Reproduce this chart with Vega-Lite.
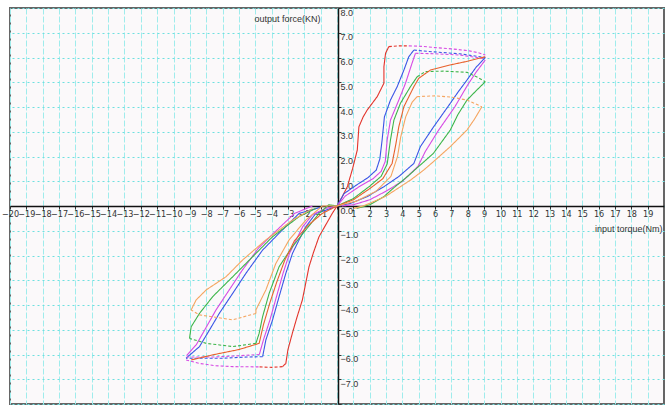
{
  "$schema": "https://vega.github.io/schema/vega-lite/v6.json",
  "width": 654,
  "height": 396,
  "autosize": {"type": "none"},
  "padding": {"left": 10, "top": 8, "right": 5, "bottom": 3},
  "background": "#ffffff",
  "config": {
    "view": {"fill": "#fbf9fa", "stroke": "#666666", "strokeWidth": 2},
    "font": "Liberation Sans"
  },
  "data": {"values": [
    {"path":"urRedA","loop":"red","part":"branch","i":0,"x":0,"y":0},
    {"path":"urRedA","loop":"red","part":"branch","i":1,"x":0.3,"y":0.35},
    {"path":"urRedA","loop":"red","part":"branch","i":2,"x":0.63,"y":0.78},
    {"path":"urRedA","loop":"red","part":"branch","i":3,"x":0.95,"y":1.5},
    {"path":"urRedA","loop":"red","part":"branch","i":4,"x":1.24,"y":2.26},
    {"path":"urRedA","loop":"red","part":"branch","i":5,"x":1.34,"y":3.2},
    {"path":"urRedA","loop":"red","part":"branch","i":6,"x":1.6,"y":3.6},
    {"path":"urRedA","loop":"red","part":"branch","i":7,"x":1.85,"y":3.88},
    {"path":"urRedA","loop":"red","part":"branch","i":8,"x":2.46,"y":4.42},
    {"path":"urRedA","loop":"red","part":"branch","i":9,"x":2.87,"y":4.96},
    {"path":"urRedA","loop":"red","part":"branch","i":10,"x":2.87,"y":5.63},
    {"path":"urRedA","loop":"red","part":"branch","i":11,"x":2.97,"y":6.17},
    {"path":"urRedA","loop":"red","part":"branch","i":12,"x":3.17,"y":6.44},
    {"path":"urRedT","loop":"red","part":"top","i":0,"x":3.17,"y":6.44},
    {"path":"urRedT","loop":"red","part":"top","i":1,"x":3.8,"y":6.47},
    {"path":"urRedT","loop":"red","part":"top","i":2,"x":4.4,"y":6.47},
    {"path":"urMagT","loop":"magenta","part":"top","i":0,"x":4.4,"y":6.47},
    {"path":"urMagT","loop":"magenta","part":"top","i":1,"x":5.2,"y":6.45},
    {"path":"urMagT","loop":"magenta","part":"top","i":2,"x":6.0,"y":6.4},
    {"path":"urMagT","loop":"magenta","part":"top","i":3,"x":7.0,"y":6.35},
    {"path":"urMagT","loop":"magenta","part":"top","i":4,"x":8.0,"y":6.28},
    {"path":"urMagT","loop":"magenta","part":"top","i":5,"x":8.6,"y":6.2},
    {"path":"urMagT","loop":"magenta","part":"top","i":6,"x":9.07,"y":6.1},
    {"path":"urBlueA","loop":"blue","part":"branch","i":0,"x":0,"y":0},
    {"path":"urBlueA","loop":"blue","part":"branch","i":1,"x":0.43,"y":0.5},
    {"path":"urBlueA","loop":"blue","part":"branch","i":2,"x":1.2,"y":0.85},
    {"path":"urBlueA","loop":"blue","part":"branch","i":3,"x":1.9,"y":1.15},
    {"path":"urBlueA","loop":"blue","part":"branch","i":4,"x":2.4,"y":1.45},
    {"path":"urBlueA","loop":"blue","part":"branch","i":5,"x":2.62,"y":1.9},
    {"path":"urBlueA","loop":"blue","part":"branch","i":6,"x":2.76,"y":2.67},
    {"path":"urBlueA","loop":"blue","part":"branch","i":7,"x":2.9,"y":3.6},
    {"path":"urBlueA","loop":"blue","part":"branch","i":8,"x":3.27,"y":4.28},
    {"path":"urBlueA","loop":"blue","part":"branch","i":9,"x":3.68,"y":4.82},
    {"path":"urBlueA","loop":"blue","part":"branch","i":10,"x":4.09,"y":5.49},
    {"path":"urBlueA","loop":"blue","part":"branch","i":11,"x":4.39,"y":6.03},
    {"path":"urBlueA","loop":"blue","part":"branch","i":12,"x":4.7,"y":6.3},
    {"path":"urBlueT","loop":"blue","part":"top","i":0,"x":4.7,"y":6.3},
    {"path":"urBlueT","loop":"blue","part":"top","i":1,"x":5.5,"y":6.25},
    {"path":"urBlueT","loop":"blue","part":"top","i":2,"x":6.5,"y":6.2},
    {"path":"urBlueT","loop":"blue","part":"top","i":3,"x":7.5,"y":6.15},
    {"path":"urBlueT","loop":"blue","part":"top","i":4,"x":9.07,"y":6.0},
    {"path":"urBlueB","loop":"blue","part":"branch","i":0,"x":9.07,"y":6.0},
    {"path":"urBlueB","loop":"blue","part":"branch","i":1,"x":8.5,"y":5.6},
    {"path":"urBlueB","loop":"blue","part":"branch","i":2,"x":7.95,"y":5.09},
    {"path":"urBlueB","loop":"blue","part":"branch","i":3,"x":7.4,"y":4.6},
    {"path":"urBlueB","loop":"blue","part":"branch","i":4,"x":6.93,"y":4.15},
    {"path":"urBlueB","loop":"blue","part":"branch","i":5,"x":5.91,"y":3.2},
    {"path":"urBlueB","loop":"blue","part":"branch","i":6,"x":5.1,"y":2.4},
    {"path":"urBlueB","loop":"blue","part":"branch","i":7,"x":4.7,"y":1.72},
    {"path":"urBlueB","loop":"blue","part":"branch","i":8,"x":3.8,"y":1.2},
    {"path":"urBlueB","loop":"blue","part":"branch","i":9,"x":2.87,"y":0.78},
    {"path":"urBlueB","loop":"blue","part":"branch","i":10,"x":1.85,"y":0.38},
    {"path":"urBlueB","loop":"blue","part":"branch","i":11,"x":0.8,"y":0.1},
    {"path":"urBlueB","loop":"blue","part":"branch","i":12,"x":0,"y":0},
    {"path":"urMagA","loop":"magenta","part":"branch","i":0,"x":0,"y":0},
    {"path":"urMagA","loop":"magenta","part":"branch","i":1,"x":0.5,"y":0.4},
    {"path":"urMagA","loop":"magenta","part":"branch","i":2,"x":1.4,"y":0.8},
    {"path":"urMagA","loop":"magenta","part":"branch","i":3,"x":2.2,"y":1.1},
    {"path":"urMagA","loop":"magenta","part":"branch","i":4,"x":2.7,"y":1.4},
    {"path":"urMagA","loop":"magenta","part":"branch","i":5,"x":2.95,"y":1.8},
    {"path":"urMagA","loop":"magenta","part":"branch","i":6,"x":3.07,"y":2.67},
    {"path":"urMagA","loop":"magenta","part":"branch","i":7,"x":3.27,"y":3.47},
    {"path":"urMagA","loop":"magenta","part":"branch","i":8,"x":3.78,"y":4.28},
    {"path":"urMagA","loop":"magenta","part":"branch","i":9,"x":4.19,"y":4.96},
    {"path":"urMagA","loop":"magenta","part":"branch","i":10,"x":4.59,"y":5.77},
    {"path":"urMagA","loop":"magenta","part":"branch","i":11,"x":4.8,"y":6.17},
    {"path":"urMagT2","loop":"magenta","part":"top","i":0,"x":4.8,"y":6.17},
    {"path":"urMagT2","loop":"magenta","part":"top","i":1,"x":6.0,"y":6.15},
    {"path":"urMagT2","loop":"magenta","part":"top","i":2,"x":7.5,"y":6.1},
    {"path":"urMagT2","loop":"magenta","part":"top","i":3,"x":9.07,"y":5.95},
    {"path":"urMagB","loop":"magenta","part":"branch","i":0,"x":9.07,"y":5.9},
    {"path":"urMagB","loop":"magenta","part":"branch","i":1,"x":8.5,"y":5.4},
    {"path":"urMagB","loop":"magenta","part":"branch","i":2,"x":8.0,"y":4.9},
    {"path":"urMagB","loop":"magenta","part":"branch","i":3,"x":7.2,"y":4.0},
    {"path":"urMagB","loop":"magenta","part":"branch","i":4,"x":6.2,"y":3.05},
    {"path":"urMagB","loop":"magenta","part":"branch","i":5,"x":5.4,"y":2.2},
    {"path":"urMagB","loop":"magenta","part":"branch","i":6,"x":4.95,"y":1.6},
    {"path":"urMagB","loop":"magenta","part":"branch","i":7,"x":4.0,"y":1.0},
    {"path":"urMagB","loop":"magenta","part":"branch","i":8,"x":3.0,"y":0.6},
    {"path":"urMagB","loop":"magenta","part":"branch","i":9,"x":2.0,"y":0.25},
    {"path":"urMagB","loop":"magenta","part":"branch","i":10,"x":1.0,"y":0.05},
    {"path":"urMagB","loop":"magenta","part":"branch","i":11,"x":0.3,"y":0},
    {"path":"urGreenA","loop":"green","part":"branch","i":0,"x":0,"y":0},
    {"path":"urGreenA","loop":"green","part":"branch","i":1,"x":1.0,"y":0.3},
    {"path":"urGreenA","loop":"green","part":"branch","i":2,"x":2.0,"y":0.8},
    {"path":"urGreenA","loop":"green","part":"branch","i":3,"x":2.7,"y":1.2},
    {"path":"urGreenA","loop":"green","part":"branch","i":4,"x":3.07,"y":1.7},
    {"path":"urGreenA","loop":"green","part":"branch","i":5,"x":3.27,"y":2.67},
    {"path":"urGreenA","loop":"green","part":"branch","i":6,"x":3.48,"y":3.47},
    {"path":"urGreenA","loop":"green","part":"branch","i":7,"x":3.88,"y":4.15},
    {"path":"urGreenA","loop":"green","part":"branch","i":8,"x":4.49,"y":4.82},
    {"path":"urGreenA","loop":"green","part":"branch","i":9,"x":4.9,"y":5.22},
    {"path":"urGreenT","loop":"green","part":"top","i":0,"x":4.9,"y":5.22},
    {"path":"urGreenT","loop":"green","part":"top","i":1,"x":5.4,"y":5.43},
    {"path":"urGreenT","loop":"green","part":"top","i":2,"x":6.5,"y":5.45},
    {"path":"urGreenT","loop":"green","part":"top","i":3,"x":7.95,"y":5.4},
    {"path":"urGreenT","loop":"green","part":"top","i":4,"x":8.6,"y":5.2},
    {"path":"urGreenT","loop":"green","part":"top","i":5,"x":9.07,"y":5.02},
    {"path":"urGreenB","loop":"green","part":"branch","i":0,"x":9.07,"y":5.02},
    {"path":"urGreenB","loop":"green","part":"branch","i":1,"x":8.5,"y":4.65},
    {"path":"urGreenB","loop":"green","part":"branch","i":2,"x":7.95,"y":4.28},
    {"path":"urGreenB","loop":"green","part":"branch","i":3,"x":7.4,"y":3.7},
    {"path":"urGreenB","loop":"green","part":"branch","i":4,"x":6.93,"y":3.07},
    {"path":"urGreenB","loop":"green","part":"branch","i":5,"x":5.9,"y":2.13},
    {"path":"urGreenB","loop":"green","part":"branch","i":6,"x":5.0,"y":1.6},
    {"path":"urGreenB","loop":"green","part":"branch","i":7,"x":4.29,"y":1.18},
    {"path":"urGreenB","loop":"green","part":"branch","i":8,"x":3.5,"y":0.75},
    {"path":"urGreenB","loop":"green","part":"branch","i":9,"x":2.87,"y":0.38},
    {"path":"urGreenB","loop":"green","part":"branch","i":10,"x":2.0,"y":0.05},
    {"path":"urGreenB","loop":"green","part":"branch","i":11,"x":1.2,"y":-0.1},
    {"path":"urRed2A","loop":"red2","part":"branch","i":0,"x":0,"y":0},
    {"path":"urRed2A","loop":"red2","part":"branch","i":1,"x":1.0,"y":0.25},
    {"path":"urRed2A","loop":"red2","part":"branch","i":2,"x":2.0,"y":0.7},
    {"path":"urRed2A","loop":"red2","part":"branch","i":3,"x":2.8,"y":1.1},
    {"path":"urRed2A","loop":"red2","part":"branch","i":4,"x":3.37,"y":1.72},
    {"path":"urRed2A","loop":"red2","part":"branch","i":5,"x":3.6,"y":2.5},
    {"path":"urRed2A","loop":"red2","part":"branch","i":6,"x":3.78,"y":3.2},
    {"path":"urRed2A","loop":"red2","part":"branch","i":7,"x":4.09,"y":4.01},
    {"path":"urRed2A","loop":"red2","part":"branch","i":8,"x":4.7,"y":4.82},
    {"path":"urRed2A","loop":"red2","part":"branch","i":9,"x":5.0,"y":5.16},
    {"path":"urRed2A","loop":"red2","part":"branch","i":10,"x":5.71,"y":5.49},
    {"path":"urRed2A","loop":"red2","part":"branch","i":11,"x":6.93,"y":5.7},
    {"path":"urRed2A","loop":"red2","part":"branch","i":12,"x":8.0,"y":5.85},
    {"path":"urRed2A","loop":"red2","part":"branch","i":13,"x":9.07,"y":6.03},
    {"path":"urOrA","loop":"orange","part":"branch","i":0,"x":0,"y":0},
    {"path":"urOrA","loop":"orange","part":"branch","i":1,"x":1.2,"y":0.2},
    {"path":"urOrA","loop":"orange","part":"branch","i":2,"x":2.4,"y":0.6},
    {"path":"urOrA","loop":"orange","part":"branch","i":3,"x":3.3,"y":1.2},
    {"path":"urOrA","loop":"orange","part":"branch","i":4,"x":3.7,"y":2.0},
    {"path":"urOrA","loop":"orange","part":"branch","i":5,"x":3.9,"y":2.8},
    {"path":"urOrA","loop":"orange","part":"branch","i":6,"x":4.2,"y":3.6},
    {"path":"urOrA","loop":"orange","part":"branch","i":7,"x":4.6,"y":4.2},
    {"path":"urOrA","loop":"orange","part":"branch","i":8,"x":4.9,"y":4.42},
    {"path":"urOrT","loop":"orange","part":"top","i":0,"x":4.9,"y":4.42},
    {"path":"urOrT","loop":"orange","part":"top","i":1,"x":6.0,"y":4.45},
    {"path":"urOrT","loop":"orange","part":"top","i":2,"x":7.0,"y":4.4},
    {"path":"urOrT","loop":"orange","part":"top","i":3,"x":7.95,"y":4.28},
    {"path":"urOrT","loop":"orange","part":"top","i":4,"x":8.86,"y":4.01},
    {"path":"urOrB","loop":"orange","part":"branch","i":0,"x":8.86,"y":4.01},
    {"path":"urOrB","loop":"orange","part":"branch","i":1,"x":8.4,"y":3.5},
    {"path":"urOrB","loop":"orange","part":"branch","i":2,"x":7.95,"y":3.07},
    {"path":"urOrB","loop":"orange","part":"branch","i":3,"x":6.93,"y":2.4},
    {"path":"urOrB","loop":"orange","part":"branch","i":4,"x":6.0,"y":1.85},
    {"path":"urOrB","loop":"orange","part":"branch","i":5,"x":5.3,"y":1.45},
    {"path":"urOrB","loop":"orange","part":"branch","i":6,"x":4.5,"y":1.05},
    {"path":"urOrB","loop":"orange","part":"branch","i":7,"x":3.88,"y":0.78},
    {"path":"urOrB","loop":"orange","part":"branch","i":8,"x":3.0,"y":0.4},
    {"path":"urOrB","loop":"orange","part":"branch","i":9,"x":2.46,"y":0.24},
    {"path":"urOrB","loop":"orange","part":"branch","i":10,"x":1.6,"y":0.0},
    {"path":"urOrB","loop":"orange","part":"branch","i":11,"x":1.0,"y":-0.1},

    {"path":"llRedA","loop":"red","part":"branch","i":0,"x":0,"y":0},
    {"path":"llRedA","loop":"red","part":"branch","i":1,"x":-0.29,"y":-0.3},
    {"path":"llRedA","loop":"red","part":"branch","i":2,"x":-1.1,"y":-1.24},
    {"path":"llRedA","loop":"red","part":"branch","i":3,"x":-1.45,"y":-1.9},
    {"path":"llRedA","loop":"red","part":"branch","i":4,"x":-1.71,"y":-2.45},
    {"path":"llRedA","loop":"red","part":"branch","i":5,"x":-2.12,"y":-3.8},
    {"path":"llRedA","loop":"red","part":"branch","i":6,"x":-2.45,"y":-4.5},
    {"path":"llRedA","loop":"red","part":"branch","i":7,"x":-2.73,"y":-5.14},
    {"path":"llRedA","loop":"red","part":"branch","i":8,"x":-3.0,"y":-5.8},
    {"path":"llRedA","loop":"red","part":"branch","i":9,"x":-3.13,"y":-6.36},
    {"path":"llRedA","loop":"red","part":"branch","i":10,"x":-3.33,"y":-6.49},
    {"path":"llRedT","loop":"red","part":"top","i":0,"x":-3.33,"y":-6.49},
    {"path":"llRedT","loop":"red","part":"top","i":1,"x":-4.0,"y":-6.52},
    {"path":"llRedT","loop":"red","part":"top","i":2,"x":-4.8,"y":-6.5},
    {"path":"llMagT","loop":"magenta","part":"top","i":0,"x":-4.8,"y":-6.5},
    {"path":"llMagT","loop":"magenta","part":"top","i":1,"x":-6.38,"y":-6.49},
    {"path":"llMagT","loop":"magenta","part":"top","i":2,"x":-7.5,"y":-6.45},
    {"path":"llMagT","loop":"magenta","part":"top","i":3,"x":-8.41,"y":-6.36},
    {"path":"llMagT","loop":"magenta","part":"top","i":4,"x":-9.23,"y":-6.22},
    {"path":"llBlueA","loop":"blue","part":"branch","i":0,"x":0,"y":0},
    {"path":"llBlueA","loop":"blue","part":"branch","i":1,"x":-0.6,"y":-0.15},
    {"path":"llBlueA","loop":"blue","part":"branch","i":2,"x":-1.3,"y":-0.3},
    {"path":"llBlueA","loop":"blue","part":"branch","i":3,"x":-1.91,"y":-0.84},
    {"path":"llBlueA","loop":"blue","part":"branch","i":4,"x":-2.32,"y":-1.37},
    {"path":"llBlueA","loop":"blue","part":"branch","i":5,"x":-2.72,"y":-1.91},
    {"path":"llBlueA","loop":"blue","part":"branch","i":6,"x":-3.13,"y":-2.72},
    {"path":"llBlueA","loop":"blue","part":"branch","i":7,"x":-3.54,"y":-3.66},
    {"path":"llBlueA","loop":"blue","part":"branch","i":8,"x":-3.94,"y":-4.6},
    {"path":"llBlueA","loop":"blue","part":"branch","i":9,"x":-4.35,"y":-5.41},
    {"path":"llBlueA","loop":"blue","part":"branch","i":10,"x":-4.55,"y":-6.09},
    {"path":"llBlueT","loop":"blue","part":"top","i":0,"x":-4.55,"y":-6.09},
    {"path":"llBlueT","loop":"blue","part":"top","i":1,"x":-5.5,"y":-6.1},
    {"path":"llBlueT","loop":"blue","part":"top","i":2,"x":-7.0,"y":-6.15},
    {"path":"llBlueT","loop":"blue","part":"top","i":3,"x":-8.5,"y":-6.15},
    {"path":"llBlueT","loop":"blue","part":"top","i":4,"x":-9.23,"y":-6.15},
    {"path":"llBlueB","loop":"blue","part":"branch","i":0,"x":-9.23,"y":-6.15},
    {"path":"llBlueB","loop":"blue","part":"branch","i":1,"x":-8.41,"y":-5.68},
    {"path":"llBlueB","loop":"blue","part":"branch","i":2,"x":-7.8,"y":-5.01},
    {"path":"llBlueB","loop":"blue","part":"branch","i":3,"x":-7.2,"y":-4.34},
    {"path":"llBlueB","loop":"blue","part":"branch","i":4,"x":-6.38,"y":-3.53},
    {"path":"llBlueB","loop":"blue","part":"branch","i":5,"x":-5.57,"y":-2.72},
    {"path":"llBlueB","loop":"blue","part":"branch","i":6,"x":-4.55,"y":-1.78},
    {"path":"llBlueB","loop":"blue","part":"branch","i":7,"x":-3.54,"y":-1.1},
    {"path":"llBlueB","loop":"blue","part":"branch","i":8,"x":-2.32,"y":-0.3},
    {"path":"llBlueB","loop":"blue","part":"branch","i":9,"x":-1.0,"y":-0.05},
    {"path":"llMagA","loop":"magenta","part":"branch","i":0,"x":0,"y":0},
    {"path":"llMagA","loop":"magenta","part":"branch","i":1,"x":-0.7,"y":-0.1},
    {"path":"llMagA","loop":"magenta","part":"branch","i":2,"x":-1.5,"y":-0.35},
    {"path":"llMagA","loop":"magenta","part":"branch","i":3,"x":-2.1,"y":-0.84},
    {"path":"llMagA","loop":"magenta","part":"branch","i":4,"x":-2.5,"y":-1.37},
    {"path":"llMagA","loop":"magenta","part":"branch","i":5,"x":-2.9,"y":-1.91},
    {"path":"llMagA","loop":"magenta","part":"branch","i":6,"x":-3.3,"y":-2.72},
    {"path":"llMagA","loop":"magenta","part":"branch","i":7,"x":-3.7,"y":-3.66},
    {"path":"llMagA","loop":"magenta","part":"branch","i":8,"x":-4.1,"y":-4.6},
    {"path":"llMagA","loop":"magenta","part":"branch","i":9,"x":-4.5,"y":-5.41},
    {"path":"llMagA","loop":"magenta","part":"branch","i":10,"x":-4.75,"y":-6.0},
    {"path":"llMagT2","loop":"magenta","part":"top","i":0,"x":-4.75,"y":-6.0},
    {"path":"llMagT2","loop":"magenta","part":"top","i":1,"x":-6.0,"y":-6.05},
    {"path":"llMagT2","loop":"magenta","part":"top","i":2,"x":-7.5,"y":-6.1},
    {"path":"llMagT2","loop":"magenta","part":"top","i":3,"x":-9.2,"y":-6.1},
    {"path":"llMagB","loop":"magenta","part":"branch","i":0,"x":-9.2,"y":-6.05},
    {"path":"llMagB","loop":"magenta","part":"branch","i":1,"x":-8.6,"y":-5.6},
    {"path":"llMagB","loop":"magenta","part":"branch","i":2,"x":-8.0,"y":-4.9},
    {"path":"llMagB","loop":"magenta","part":"branch","i":3,"x":-7.4,"y":-4.2},
    {"path":"llMagB","loop":"magenta","part":"branch","i":4,"x":-6.6,"y":-3.4},
    {"path":"llMagB","loop":"magenta","part":"branch","i":5,"x":-5.8,"y":-2.6},
    {"path":"llMagB","loop":"magenta","part":"branch","i":6,"x":-4.8,"y":-1.7},
    {"path":"llMagB","loop":"magenta","part":"branch","i":7,"x":-3.8,"y":-1.05},
    {"path":"llMagB","loop":"magenta","part":"branch","i":8,"x":-2.6,"y":-0.3},
    {"path":"llMagB","loop":"magenta","part":"branch","i":9,"x":-1.5,"y":0.0},
    {"path":"llGreenA","loop":"green","part":"branch","i":0,"x":0,"y":0},
    {"path":"llGreenA","loop":"green","part":"branch","i":1,"x":-0.5,"y":0.05},
    {"path":"llGreenA","loop":"green","part":"branch","i":2,"x":-1.1,"y":-0.3},
    {"path":"llGreenA","loop":"green","part":"branch","i":3,"x":-1.91,"y":-0.97},
    {"path":"llGreenA","loop":"green","part":"branch","i":4,"x":-2.72,"y":-1.64},
    {"path":"llGreenA","loop":"green","part":"branch","i":5,"x":-3.54,"y":-2.45},
    {"path":"llGreenA","loop":"green","part":"branch","i":6,"x":-4.15,"y":-3.53},
    {"path":"llGreenA","loop":"green","part":"branch","i":7,"x":-4.55,"y":-4.47},
    {"path":"llGreenA","loop":"green","part":"branch","i":8,"x":-4.76,"y":-5.14},
    {"path":"llGreenA","loop":"green","part":"branch","i":9,"x":-4.96,"y":-5.55},
    {"path":"llGreenT","loop":"green","part":"top","i":0,"x":-4.96,"y":-5.55},
    {"path":"llGreenT","loop":"green","part":"top","i":1,"x":-6.38,"y":-5.68},
    {"path":"llGreenT","loop":"green","part":"top","i":2,"x":-7.99,"y":-5.55},
    {"path":"llGreenT","loop":"green","part":"top","i":3,"x":-9.02,"y":-5.35},
    {"path":"llGreenB","loop":"green","part":"branch","i":0,"x":-9.02,"y":-5.35},
    {"path":"llGreenB","loop":"green","part":"branch","i":1,"x":-8.92,"y":-4.88},
    {"path":"llGreenB","loop":"green","part":"branch","i":2,"x":-8.41,"y":-4.34},
    {"path":"llGreenB","loop":"green","part":"branch","i":3,"x":-7.6,"y":-3.66},
    {"path":"llGreenB","loop":"green","part":"branch","i":4,"x":-6.38,"y":-2.86},
    {"path":"llGreenB","loop":"green","part":"branch","i":5,"x":-5.16,"y":-2.05},
    {"path":"llGreenB","loop":"green","part":"branch","i":6,"x":-3.94,"y":-1.24},
    {"path":"llGreenB","loop":"green","part":"branch","i":7,"x":-2.32,"y":-0.43},
    {"path":"llGreenB","loop":"green","part":"branch","i":8,"x":-1.3,"y":-0.1},
    {"path":"llRed2A","loop":"red2","part":"branch","i":0,"x":0,"y":0},
    {"path":"llRed2A","loop":"red2","part":"branch","i":1,"x":-0.9,"y":-0.3},
    {"path":"llRed2A","loop":"red2","part":"branch","i":2,"x":-1.8,"y":-0.8},
    {"path":"llRed2A","loop":"red2","part":"branch","i":3,"x":-2.6,"y":-1.4},
    {"path":"llRed2A","loop":"red2","part":"branch","i":4,"x":-3.2,"y":-2.2},
    {"path":"llRed2A","loop":"red2","part":"branch","i":5,"x":-3.7,"y":-3.1},
    {"path":"llRed2A","loop":"red2","part":"branch","i":6,"x":-4.1,"y":-3.9},
    {"path":"llRed2A","loop":"red2","part":"branch","i":7,"x":-4.5,"y":-4.8},
    {"path":"llRed2A","loop":"red2","part":"branch","i":8,"x":-4.76,"y":-5.55},
    {"path":"llRed2A","loop":"red2","part":"branch","i":9,"x":-6.0,"y":-5.8},
    {"path":"llRed2A","loop":"red2","part":"branch","i":10,"x":-7.5,"y":-6.0},
    {"path":"llRed2A","loop":"red2","part":"branch","i":11,"x":-8.92,"y":-6.22},
    {"path":"llOrA","loop":"orange","part":"branch","i":0,"x":0,"y":0},
    {"path":"llOrA","loop":"orange","part":"branch","i":1,"x":-0.9,"y":0.0},
    {"path":"llOrA","loop":"orange","part":"branch","i":2,"x":-1.91,"y":-0.57},
    {"path":"llOrA","loop":"orange","part":"branch","i":3,"x":-2.93,"y":-1.37},
    {"path":"llOrA","loop":"orange","part":"branch","i":4,"x":-3.74,"y":-2.32},
    {"path":"llOrA","loop":"orange","part":"branch","i":5,"x":-4.35,"y":-3.39},
    {"path":"llOrA","loop":"orange","part":"branch","i":6,"x":-4.96,"y":-4.2},
    {"path":"llOrA","loop":"orange","part":"branch","i":7,"x":-4.96,"y":-4.34},
    {"path":"llOrT","loop":"orange","part":"top","i":0,"x":-4.96,"y":-4.34},
    {"path":"llOrT","loop":"orange","part":"top","i":1,"x":-6.38,"y":-4.6},
    {"path":"llOrT","loop":"orange","part":"top","i":2,"x":-8.41,"y":-4.4},
    {"path":"llOrT","loop":"orange","part":"top","i":3,"x":-8.92,"y":-4.2},
    {"path":"llOrB","loop":"orange","part":"branch","i":0,"x":-8.92,"y":-4.2},
    {"path":"llOrB","loop":"orange","part":"branch","i":1,"x":-8.62,"y":-3.8},
    {"path":"llOrB","loop":"orange","part":"branch","i":2,"x":-8.0,"y":-3.39},
    {"path":"llOrB","loop":"orange","part":"branch","i":3,"x":-6.79,"y":-2.86},
    {"path":"llOrB","loop":"orange","part":"branch","i":4,"x":-5.77,"y":-2.18},
    {"path":"llOrB","loop":"orange","part":"branch","i":5,"x":-4.35,"y":-1.37},
    {"path":"llOrB","loop":"orange","part":"branch","i":6,"x":-2.72,"y":-0.57},
    {"path":"llOrB","loop":"orange","part":"branch","i":7,"x":-1.5,"y":-0.1}
  ]},
  "mark": {"type": "line", "strokeWidth": 1.1, "clip": true},
  "encoding": {
    "x": {
      "field": "x", "type": "quantitative",
      "scale": {"domain": [-20, 20], "nice": false, "zero": false},
      "axis": {
        "orient": "bottom", "offset": -198,
        "values": [-20,-19,-18,-17,-16,-15,-14,-13,-12,-11,-10,-9,-8,-7,-6,-5,-4,-3,-2,-1,0,1,2,3,4,5,6,7,8,9,10,11,12,13,14,15,16,17,18,19],
        "labelExpr": "datum.value == 0 ? '' : datum.label",
        "grid": true, "gridColor": "#9fecec", "gridDash": [6, 2], "gridWidth": 1,
        "domainColor": "#111111", "domainWidth": 1.5,
        "tickColor": "#333333", "tickSize": 3,
        "labelFont": "Liberation Sans Narrow, DejaVu Sans Condensed, Liberation Sans",
        "labelFontSize": 9, "labelColor": "#333333", "labelPadding": 0, "labelDx": 3,
        "labelOverlap": false, "labelFlush": false,
        "title": "input torque(Nm)",
        "titleFont": "Liberation Sans", "titleFontSize": 9, "titleFontWeight": "normal",
        "titleColor": "#333333", "titleAngle": 0, "titleAlign": "right",
        "titleBaseline": "middle", "titleX": 652, "titleY": 22
      }
    },
    "y": {
      "field": "y", "type": "quantitative",
      "scale": {"domain": [-8, 8], "nice": false, "zero": false},
      "axis": {
        "orient": "right", "offset": -326,
        "values": [-8,-7,-6,-5,-4,-3,-2,-1,0,1,2,3,4,5,6,7,8],
        "format": ".1f",
        "labelExpr": "datum.value == -8 ? '' : datum.label",
        "grid": true, "gridColor": "#6fe0e0", "gridDash": [2, 3], "gridWidth": 1,
        "domainColor": "#111111", "domainWidth": 1.5,
        "tickColor": "#333333", "tickSize": 3,
        "labelFont": "Liberation Sans Narrow, Liberation Sans", "labelFontSize": 9, "labelColor": "#333333",
        "labelPadding": -1, "labelAlign": "left", "labelBaseline": "top", "labelDy": 1,
        "labelOverlap": false, "labelFlush": false,
        "title": "output force(KN)",
        "titleFont": "Liberation Sans", "titleFontSize": 9, "titleFontWeight": "normal",
        "titleColor": "#333333", "titleAngle": 0, "titleAlign": "right",
        "titleBaseline": "middle", "titleX": -18, "titleY": 10
      }
    },
    "detail": {"field": "path", "type": "nominal"},
    "order": {"field": "i", "type": "quantitative"},
    "color": {
      "field": "loop", "type": "nominal", "legend": null,
      "scale": {
        "domain": ["red", "red2", "orange", "green", "blue", "magenta"],
        "range": ["#e3342b", "#e8612c", "#f5a560", "#3db54a", "#3a55e6", "#d64ae4"]
      }
    },
    "strokeDash": {
      "field": "part", "type": "nominal", "legend": null,
      "scale": {"domain": ["branch", "top"], "range": [[1, 0], [3, 2]]}
    }
  }
}
